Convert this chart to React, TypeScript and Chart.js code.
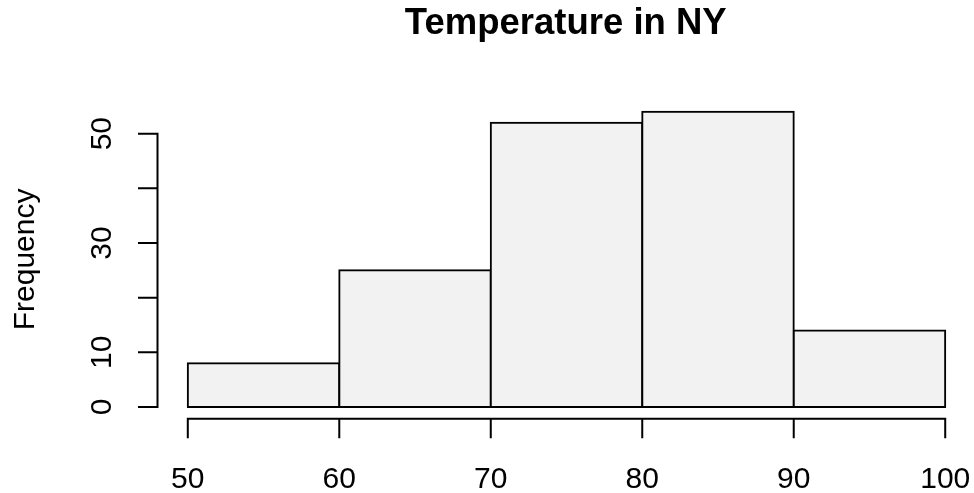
import React, { useEffect, useRef } from "react";
import { Chart, registerables } from "chart.js";

Chart.register(...registerables);

// ---- data ----
const breaks = [50, 60, 70, 80, 90, 100];
const counts = [8, 25, 52, 54, 14];
const xTicks = [50, 60, 70, 80, 90, 100];
const xTickLabels = ["50", "60", "70", "80", "90", "100"];
const yTicks = [0, 10, 20, 30, 40, 50];
const yTickLabels = ["0", "10", "", "30", "", "50"];
const title = "Temperature in NY";
const yLabel = "Frequency";

const W = 974;
const H = 493;
const FONT = '"Liberation Sans", Arial, Helvetica, sans-serif';
const TICK = 19.5;

const rAxes = {
  id: "rAxes",
  afterDraw(chart: any) {
    const { ctx, chartArea, scales } = chart;
    const x = scales.x;
    const y = scales.y;
    ctx.save();
    ctx.strokeStyle = "#000";
    ctx.lineWidth = 2;
    ctx.lineCap = "butt";

    // y axis
    const ax = chartArea.left;
    ctx.beginPath();
    ctx.moveTo(ax, y.getPixelForValue(yTicks[0]) + 1);
    ctx.lineTo(ax, y.getPixelForValue(yTicks[yTicks.length - 1]) - 1);
    yTicks.forEach((t) => {
      const py = y.getPixelForValue(t);
      ctx.moveTo(ax + 1, py);
      ctx.lineTo(ax - TICK, py);
    });
    ctx.stroke();

    // x axis
    const ay = chartArea.bottom;
    ctx.beginPath();
    ctx.moveTo(x.getPixelForValue(xTicks[0]) - 1, ay);
    ctx.lineTo(x.getPixelForValue(xTicks[xTicks.length - 1]) + 1, ay);
    xTicks.forEach((t) => {
      const px = x.getPixelForValue(t);
      ctx.moveTo(px, ay - 1);
      ctx.lineTo(px, ay + TICK);
    });
    ctx.stroke();

    ctx.fillStyle = "#000";
    ctx.font = `30px ${FONT}`;
    ctx.textAlign = "center";
    ctx.textBaseline = "alphabetic";
    xTicks.forEach((t, i) => {
      ctx.fillText(xTickLabels[i], x.getPixelForValue(t), 488);
    });

    yTicks.forEach((t, i) => {
      if (!yTickLabels[i]) return;
      ctx.save();
      ctx.translate(111, y.getPixelForValue(t));
      ctx.rotate(-Math.PI / 2);
      ctx.fillText(yTickLabels[i], 0, 0);
      ctx.restore();
    });

    // y label
    ctx.save();
    ctx.translate(34, (chartArea.top + chartArea.bottom) / 2);
    ctx.rotate(-Math.PI / 2);
    ctx.fillText(yLabel, 0, 0);
    ctx.restore();

    // title
    ctx.font = `bold 36.5px ${FONT}`;
    ctx.fillText(title, (chartArea.left + chartArea.right) / 2, 33.5);
    ctx.restore();
  },
};

export default function App() {
  const ref = useRef<HTMLCanvasElement | null>(null);
  useEffect(() => {
    if (!ref.current) return;
    const data = counts.map((c, i) => ({ x: (breaks[i] + breaks[i + 1]) / 2, y: c }));
    const chart = new Chart(ref.current, {
      type: "bar",
      data: {
        datasets: [
          {
            data: data as any,
            backgroundColor: "#f2f2f2",
            borderColor: "#000",
            borderWidth: 2,
            borderSkipped: false,
            inflateAmount: 1,
            barPercentage: 1,
            categoryPercentage: 1,
          } as any,
        ],
      },
      options: {
        animation: false,
        responsive: false,
        devicePixelRatio: 1,
        layout: { padding: { left: 157.5, right: 0, top: 100, bottom: 74.2 } },
        plugins: { legend: { display: false }, tooltip: { enabled: false }, title: { display: false } },
        scales: {
          x: {
            type: "linear",
            min: 48,
            max: 101.9,
            display: false,
            offset: false,
            afterBuildTicks: (s: any) => {
              s.ticks = breaks.map((v) => ({ value: v }));
            },
          },
          y: { type: "linear", min: -2.16, max: 56.16, display: false },
        },
      },
      plugins: [rAxes],
    });
    return () => chart.destroy();
  }, []);
  return (
    <div style={{ position: "fixed", left: 0, top: 0, width: W, height: H, background: "#fff" }}>
      <canvas ref={ref} width={W} height={H} style={{ display: "block", width: W, height: H }} />
    </div>
  );
}
